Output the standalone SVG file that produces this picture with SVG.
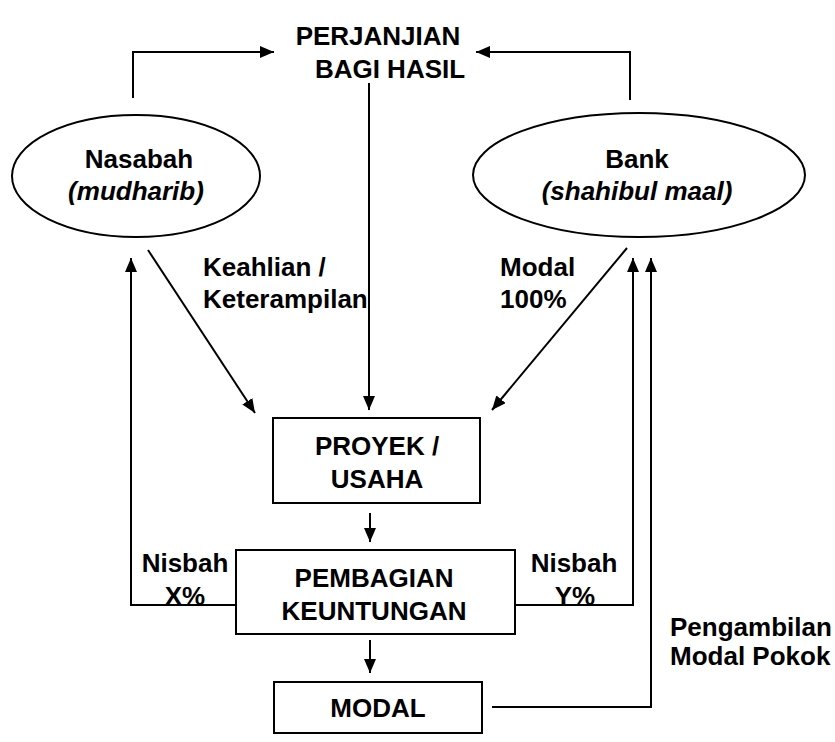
<svg xmlns="http://www.w3.org/2000/svg" width="835" height="742" viewBox="0 0 835 742">
<style>
text{font-family:"Liberation Sans",Arial,sans-serif;font-size:26px;font-weight:bold;fill:#000}
.c{text-anchor:middle}
.i{font-style:italic}
.shape{fill:#fff;stroke:#000;stroke-width:2}
.ln{fill:none;stroke:#000;stroke-width:2}
</style>
<defs>
<marker id="ah" viewBox="0 0 14 12" refX="14" refY="6" markerWidth="14" markerHeight="12" markerUnits="userSpaceOnUse" orient="auto">
<path d="M0,0 L14,6 L0,12 Z" fill="#000"/>
</marker>
</defs>
<rect width="835" height="742" fill="#fff"/>
<g id="perjanjian">
<text class="c" x="378" y="45">PERJANJIAN</text>
<text class="c" x="390" y="78">BAGI HASIL</text>
</g>
<g id="nasabah">
<ellipse class="shape" cx="136" cy="176" rx="124" ry="61"/>
<text class="c" x="139" y="168">Nasabah</text>
<text class="c i" x="136" y="200">(mudharib)</text>
</g>
<g id="bank">
<ellipse class="shape" cx="639" cy="175" rx="166" ry="62"/>
<text class="c" x="637" y="168">Bank</text>
<text class="c i" x="637" y="200">(shahibul maal)</text>
</g>
<g id="proyek">
<rect class="shape" x="273" y="418" width="207" height="85"/>
<text class="c" x="377" y="455">PROYEK /</text>
<text class="c" x="377" y="488">USAHA</text>
</g>
<g id="pembagian">
<rect class="shape" x="236" y="550" width="279" height="84"/>
<text class="c" x="374" y="587">PEMBAGIAN</text>
<text class="c" x="374" y="620">KEUNTUNGAN</text>
</g>
<g id="modal">
<rect class="shape" x="274" y="682" width="208" height="51"/>
<text class="c" x="378" y="717">MODAL</text>
</g>
<g id="connectors">
<path class="ln" d="M133,98 V52 H274" marker-end="url(#ah)"/>
<path class="ln" d="M630,100 V52 H476" marker-end="url(#ah)"/>
<path class="ln" d="M369,83 V410" marker-end="url(#ah)"/>
<path class="ln" d="M148,250 L255,413" marker-end="url(#ah)"/>
<path class="ln" d="M627,248 L492,410" marker-end="url(#ah)"/>
<path class="ln" d="M370,513 V542" marker-end="url(#ah)"/>
<path class="ln" d="M370,640 V673" marker-end="url(#ah)"/>
<path class="ln" d="M236,605 H131 V258" marker-end="url(#ah)"/>
<path class="ln" d="M515,605 H633 V258" marker-end="url(#ah)"/>
<path class="ln" d="M492,707 H651 V258" marker-end="url(#ah)"/>
</g>
<g id="labels">
<text x="203" y="276">Keahlian /</text>
<text x="203" y="308">Keterampilan</text>
<text x="500" y="276">Modal</text>
<text x="500" y="308">100%</text>
<text class="c" x="185" y="572">Nisbah</text>
<text class="c" x="185" y="605">X%</text>
<text class="c" x="574" y="572">Nisbah</text>
<text class="c" x="575" y="605">Y%</text>
<text x="670" y="636">Pengambilan</text>
<text x="670" y="665">Modal Pokok</text>
</g>
</svg>
